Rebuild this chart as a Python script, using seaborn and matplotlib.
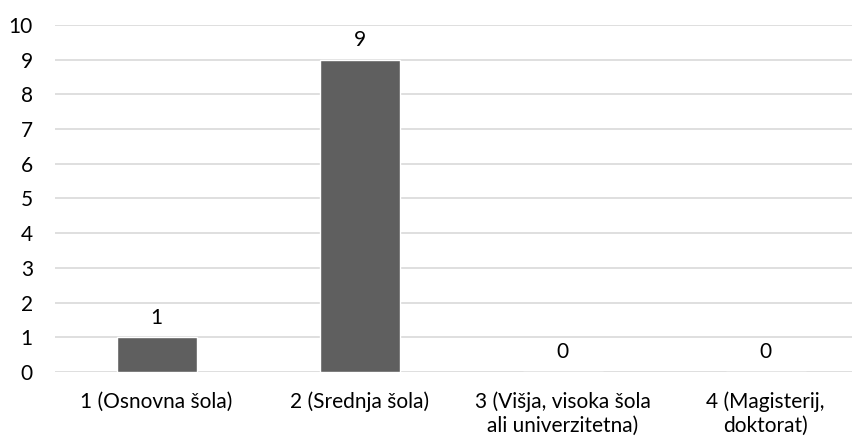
import matplotlib
matplotlib.use("Agg")
import matplotlib.pyplot as plt
import seaborn as sns
import pandas as pd

categories = ["1 (Osnovna šola)", "2 (Srednja šola)",
              "3 (Višja, visoka šola\nali univerzitetna)", "4 (Magisterij,\ndoktorat)"]
counts = [1, 9, 0, 0]
y_ticks = list(range(0, 11))

sns.set_theme(style="white")
plt.rcParams["font.family"] = ["Lato", "DejaVu Sans"]

df = pd.DataFrame({"kategorija": categories, "stevilo": counts})

fig = plt.figure(figsize=(8.53, 4.41), dpi=100)
ax = fig.add_axes([0.0645, 0.1565, 0.952, 0.7868])

sns.barplot(data=df, x="kategorija", y="stevilo", color="#5f5f5f",
            saturation=1, width=0.394, ax=ax)

ax.set_ylim(0, 10)
ax.set_yticks(y_ticks)
ax.set_xlim(-0.5, 3.5)
ax.yaxis.grid(True, color="#d9d9d9", linewidth=1.2)
ax.set_axisbelow(True)
for s in ax.spines.values():
    s.set_visible(False)
ax.set_xlabel("")
ax.set_ylabel("")
ax.tick_params(axis="both", length=0, labelsize=15, colors="#000000")
ax.tick_params(axis="y", pad=16)
ax.tick_params(axis="x", pad=14)
for lbl in ax.get_yticklabels():
    lbl.set_horizontalalignment("right")
for lbl in ax.get_xticklabels():
    lbl.set_linespacing(1.25)

for c in ax.containers:
    ax.bar_label(c, labels=[str(v) for v in counts], padding=7, fontsize=15, color="#000000")

fig.savefig("out.png", dpi=100)
